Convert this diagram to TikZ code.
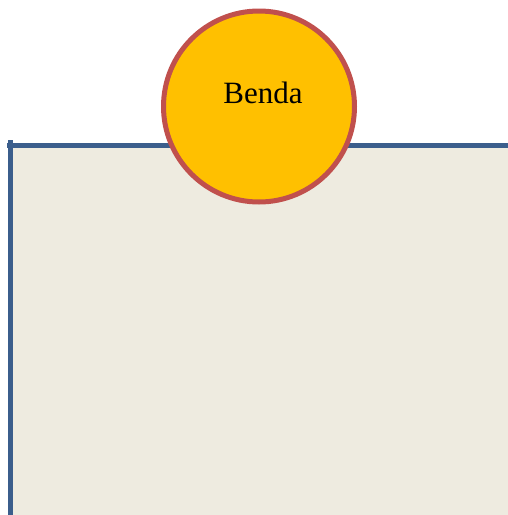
\documentclass[tikz,border=0pt]{standalone}
\usepackage{fontspec}
\setmainfont{Liberation Serif}
\definecolor{edgeblue}{HTML}{3B5E8C}
\definecolor{paper}{HTML}{EEEBE0}
\definecolor{sunfill}{HTML}{FFC000}
\definecolor{sunedge}{HTML}{C0504D}
\tikzset{
  axisline/.style={draw=edgeblue, line width=5pt},
  bubble/.style={circle, fill=sunfill, draw=sunedge, line width=5pt, minimum size=191pt, inner sep=0pt},
}
\begin{document}
\begin{tikzpicture}[x=1pt,y=-1pt]
\useasboundingbox (0,0) rectangle (508,515);
\fill[paper] (10.5,145.5) rectangle (508,515);
\coordinate (hl) at (7,145.5);
\coordinate (hr) at (508,145.5);
\coordinate (vt) at (10.5,140);
\coordinate (vb) at (10.5,515);
\draw[axisline] (hl) -- (hr);
\draw[axisline] (vt) -- (vb);
\node[bubble] (benda) at (259,106.5) {};
\node[anchor=base, font=\fontsize{31}{36}\selectfont, inner sep=0pt] (lbl) at (263,103) {Benda};
\end{tikzpicture}
\end{document}
